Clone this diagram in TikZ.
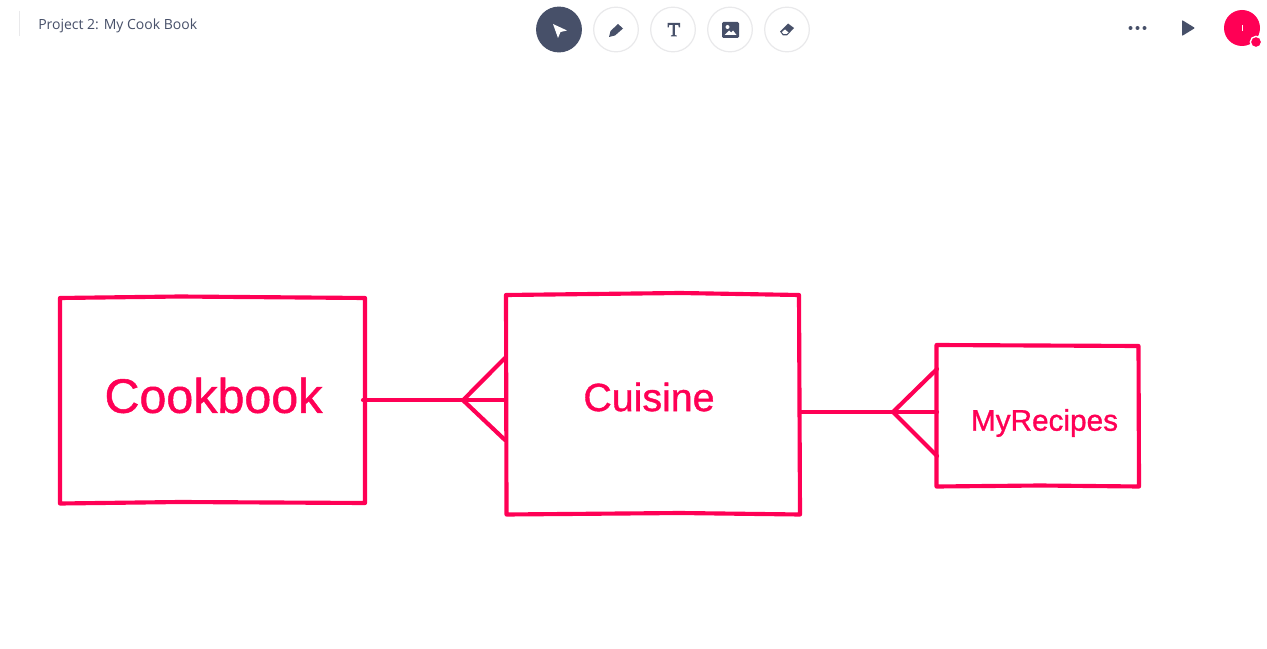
\documentclass[tikz,border=0pt]{standalone}
\usepackage{fontspec}
\setmainfont{Liberation Sans}[FakeBold=1]
\newfontfamily\uifont{Open Sans}
\definecolor{hot}{HTML}{FF0055}
\definecolor{slate}{HTML}{475069}
\definecolor{ringc}{HTML}{E9E9EB}
\tikzset{
  x=0.75pt,y=-0.75pt,
  sketch/.style={draw=hot,line width=3.1pt,line join=round,line cap=round},
  label/.style={text=hot,inner sep=0pt,anchor=center},
  tool/.style={circle,minimum size=33.5pt,inner sep=0pt,fill=white,draw=ringc,line width=0.9pt},
  ink/.style={fill=slate,draw=none},
}
\begin{document}
\begin{tikzpicture}
\useasboundingbox (0,0) rectangle (1267,649);
\fill[white] (0,0) rectangle (1267,649);
% top bar
\draw[draw=ringc,line width=0.75pt] (19.5,11) -- (19.5,36);
\node[text=slate,inner sep=0pt,anchor=west,font=\uifont\fontsize{10.5pt}{12pt}\selectfont] (title) at (38,25.5) {Project 2: My Cook Book};
\node[tool,fill=slate,draw=slate] (t1) at (559,29.5) {};
\node[tool] (t2) at (616,29.5) {};
\node[tool] (t3) at (673,29.5) {};
\node[tool] (t4) at (730,29.5) {};
\node[tool] (t5) at (787,29.5) {};
% cursor
\fill[white] (553,24) -- (567,30.5) -- (560.5,32) -- (558,38) -- cycle;
% pencil
\fill[ink] (609,37) -- (610.5,31) -- (618,24) -- (623,28.5) -- (615,35.5) -- cycle;
% T
\fill[ink] (667.5,23) -- (680,23) -- (680,27.5) -- (678.8,27.5) -- (678.3,24.8) -- (674.9,24.8) -- (674.9,35) -- (676.8,35.6) -- (676.8,36.5) -- (670.8,36.5) -- (670.8,35.6) -- (672.7,35) -- (672.7,24.8) -- (669.2,24.8) -- (668.7,27.5) -- (667.5,27.5) -- cycle;
% image
\fill[ink,rounded corners=1pt] (722,22) rectangle (739,38);
\fill[white] (724.5,35) -- (729,30.5) -- (731,32.5) -- (733,30.5) -- (736.5,35) -- cycle;
\fill[white] (727.5,27) circle (2);
% eraser
\fill[ink] (780,31.5) -- (788,23.5) -- (794,28) -- (787,35.5) -- (783,35.5) -- cycle;
\fill[white] (783,31) -- (785,29.5) -- (788.5,32.5) -- (786.5,34) -- (783.5,34) -- (781.8,32.3) -- cycle;
% menu
\fill[slate] (1130.5,28) circle (2);
\fill[slate] (1137.5,28) circle (2);
\fill[slate] (1144.5,28) circle (2);
\fill[ink,rounded corners=0.6pt] (1182,20) -- (1195,28) -- (1182,36) -- cycle;
\node[circle,fill=hot,minimum size=27pt,inner sep=0pt] (avatar) at (1242,28) {};
\draw[white,line width=0.6pt] (1242,25) -- (1242,31);
\node[circle,fill=hot,draw=white,line width=1pt,minimum size=8.5pt,inner sep=0pt] (dot) at (1256,42) {};
% boxes
\draw[sketch] (60,298) -- (180,296.5) -- (365,298) -- (365,503) -- (180,502) -- (60,503.5) -- cycle;
\draw[sketch] (506,295) -- (680,293) -- (799,295) -- (800,514.5) -- (680,513) -- (506.5,514.5) -- cycle;
\draw[sketch] (936.5,345) -- (1138.5,346) -- (1139,486.5) -- (1040,485.5) -- (936.5,486.5) -- cycle;
\node[label,font=\fontsize{36.3pt}{40pt}\selectfont] (cookbook) at (213.5,395.5) {Cookbook};
\node[label,font=\fontsize{29.5pt}{32pt}\selectfont] (cuisine) at (649,397) {Cuisine};
\node[label,font=\fontsize{22.3pt}{26pt}\selectfont] (recipes) at (1044.5,423) {MyRecipes};
% crow's feet
\coordinate (a0) at (363,400.2);
\coordinate (a1) at (463,400.2);
\coordinate (a2) at (505,358);
\coordinate (a3) at (505,400.2);
\coordinate (a4) at (505,440);
\draw[sketch] (a0) -- (a1) -- (a3);
\draw[sketch] (a2) -- (a1) -- (a4);
\coordinate (b0) at (801,412);
\coordinate (b1) at (893,412);
\coordinate (b2) at (937,369);
\coordinate (b3) at (937,412);
\coordinate (b4) at (937,456);
\draw[sketch] (b0) -- (b1) -- (b3);
\draw[sketch] (b2) -- (b1) -- (b4);
\end{tikzpicture}
\end{document}
